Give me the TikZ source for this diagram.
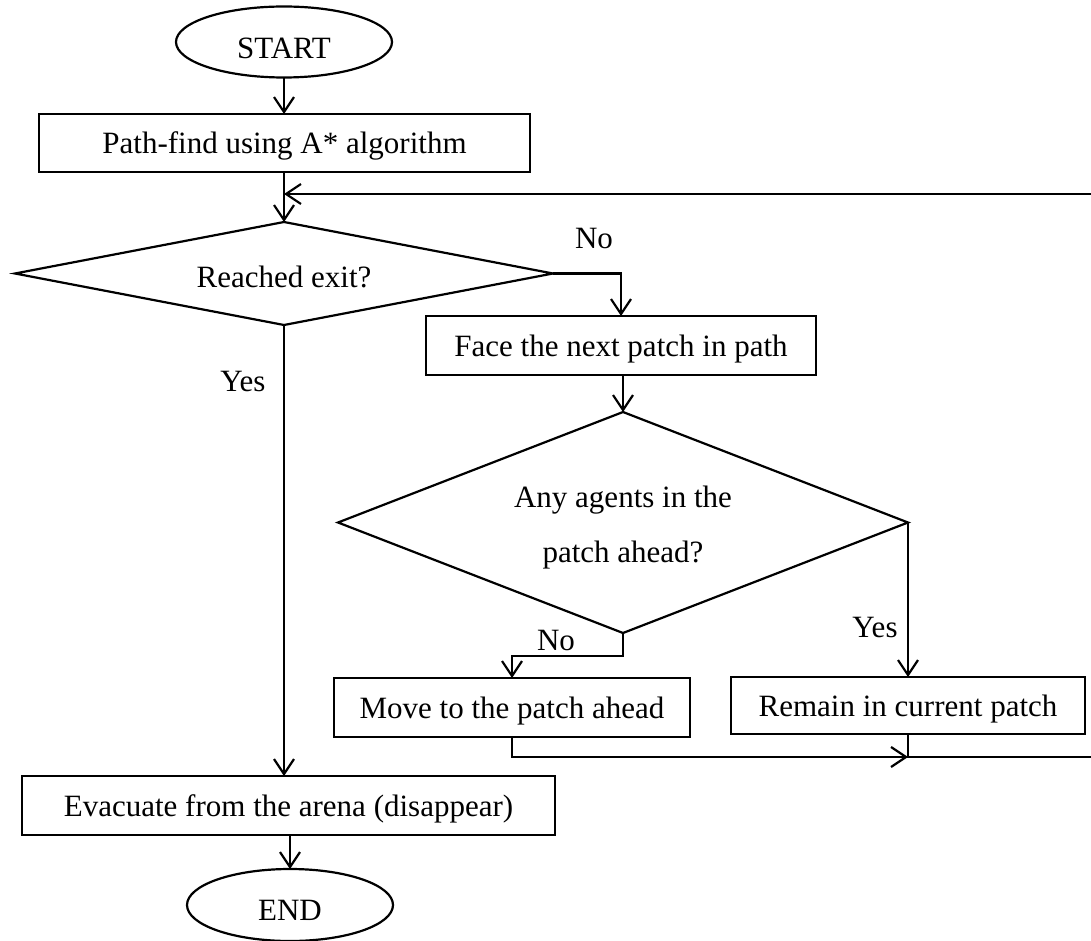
\documentclass[tikz,border=0pt]{standalone}
\usepackage{fontspec}
\setmainfont{Liberation Serif}
\usetikzlibrary{arrows.meta,shapes.geometric}
\begin{document}
\begin{tikzpicture}[x=1pt,y=-1pt,
  every node/.style={font=\fontsize{31}{55}\selectfont},
  box/.style={draw,line width=2.4pt,rectangle,inner sep=0pt,outer sep=0pt,text depth=0pt},
  term/.style={draw,line width=2.2pt,ellipse,inner sep=0pt,outer sep=0pt,text depth=0pt},
  decision/.style={draw,line width=2.2pt,diamond,inner sep=0pt,outer sep=0pt},
  conn/.style={line width=2.2pt},
  arr/.style={conn,-{Straight Barb[length=15pt,width=20pt]}},
  lbl/.style={inner sep=0pt,text depth=0pt}]
\useasboundingbox (0,0) rectangle (1091,941);

\node[term,minimum width=216pt,minimum height=71pt,text height=33pt] (start) at (284,42) {START};
\node[box,minimum width=491pt,minimum height=58pt] (pf) at (284.5,143) {Path-find using A* algorithm};
\node[decision,minimum width=538pt,minimum height=103pt,aspect=5.2,text height=27pt,text depth=0pt] (d1) at (284,273.5) {Reached exit?};
\node[box,minimum width=390pt,minimum height=59pt] (face) at (621,345.5) {Face the next patch in path};
\node[decision,minimum width=570pt,minimum height=221pt,aspect=2.58,align=center,text height=79pt,text depth=0pt] (d2) at (623,522.5) {Any agents in the\\patch ahead?};
\node[box,minimum width=356pt,minimum height=59pt] (move) at (512,707.5) {Move to the patch ahead};
\node[box,minimum width=354pt,minimum height=57pt] (remain) at (908,705.5) {Remain in current patch};
\node[box,minimum width=533pt,minimum height=59pt] (evac) at (288.5,805.5) {Evacuate from the arena (disappear)};
\node[term,minimum width=206pt,minimum height=72pt,text height=31pt] (end) at (290,905) {END};

\node[lbl] (no1) at (594,238) {No};
\node[lbl] (yes1) at (243,381) {Yes};
\node[lbl] (no2) at (556,640) {No};
\node[lbl] (yes2) at (875,627) {Yes};

\coordinate (fb) at (284,194);
\coordinate (join) at (908,757);
\coordinate (farB) at (1100,757);
\coordinate (farT) at (1100,194);

\draw[arr] (start.south) -- (start.south |- pf.north);
\draw[arr] (d1.north |- pf.south) -- (d1.north);
\draw[arr] (remain.south) -- (join) -- (farB) -- (farT) -- (fb);
\draw[arr] (move.south) |- (join);
\draw[arr] (d1.east) -| (face.north);
\draw[arr] (d2.north |- face.south) -- (d2.north);
\draw[arr] (d2.south) -- ++(0,23) -| (move.north);
\draw[arr] (d2.east) -- (remain.north);
\draw[arr] (d1.south) -- (d1.south |- evac.north);
\draw[arr] (end.north |- evac.south) -- (end.north);
\end{tikzpicture}
\end{document}
